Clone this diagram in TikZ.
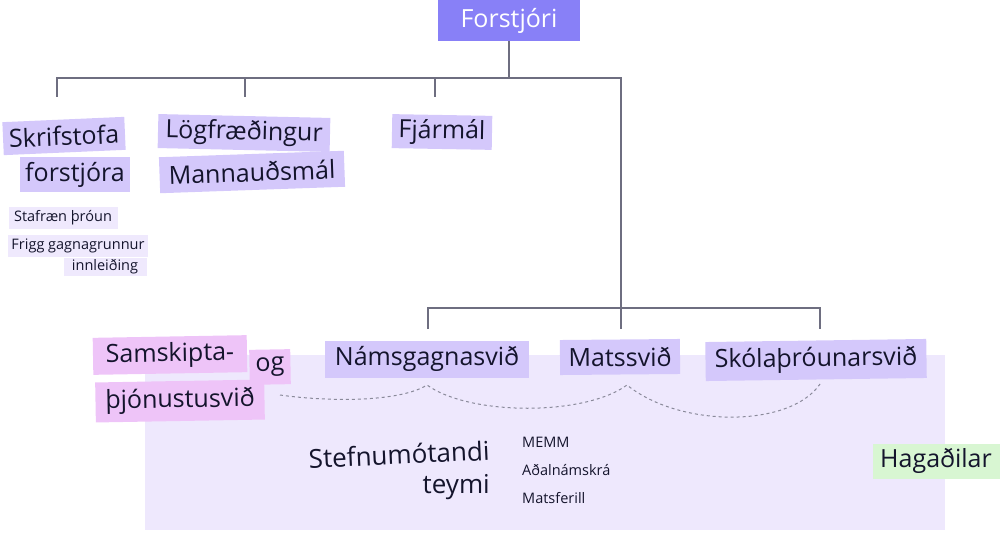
\documentclass[tikz,border=0pt]{standalone}
\usepackage{fontspec}
\setmainfont{Open Sans}
\definecolor{forst}{HTML}{8880F7}
\definecolor{lav}{HTML}{D4C8FB}
\definecolor{lavlight}{HTML}{EFE9FD}
\definecolor{pinkbox}{HTML}{EEC4F8}
\definecolor{bgpanel}{HTML}{EEE8FD}
\definecolor{greenbox}{HTML}{D8F6D2}
\definecolor{ink}{HTML}{14142C}
\definecolor{linec}{HTML}{6E6E80}
\definecolor{dashc}{HTML}{8A8A9A}
\tikzset{
  big/.style={font=\fontsize{25}{29}\selectfont, text=ink, inner sep=0pt, anchor=center},
  lbl/.style={big, fill=lav},
  pinklbl/.style={big, fill=pinkbox},
  smalllbl/.style={font=\fontsize{14.5}{17}\selectfont, text=ink, fill=lavlight, inner sep=0pt},
  smalltxt/.style={font=\fontsize{14.5}{17}\selectfont, text=ink, inner sep=0pt, anchor=west},
  orgline/.style={draw=linec, line width=1.3pt},
  dashline/.style={draw=dashc, line width=1pt, dash pattern=on 3pt off 3pt}
}
\begin{document}
\begin{tikzpicture}[x=1pt,y=-1pt]
\useasboundingbox (0,0) rectangle (1000,537);
% background panel
\fill[bgpanel] (145,355) rectangle (945,530);

% top node
\node[fill=forst, text=white, font=\fontsize{25}{28}\selectfont, minimum width=142pt, minimum height=41pt, inner sep=0pt] (F) at (509,20.5) {Forstjóri};

% connector coordinates
\coordinate (barmid) at (509,78);
\coordinate (barL) at (57,78);
\coordinate (barR) at (621,78);
\coordinate (t1) at (57,97);
\coordinate (t2) at (245,97);
\coordinate (t3) at (435,97);
\coordinate (t2top) at (245,78);
\coordinate (t3top) at (435,78);
\coordinate (low) at (621,308);
\coordinate (lowL) at (428,308);
\coordinate (lowR) at (820,308);
\coordinate (u1) at (428,329);
\coordinate (u2) at (621,329);
\coordinate (u3) at (820,329);

\draw[orgline] (F.south) -- (barmid);
\draw[orgline] (t1) -- (barL) -- (barR) -- (low) -- (u2);
\draw[orgline] (t2top) -- (t2);
\draw[orgline] (t3top) -- (t3);
\draw[orgline] (u1) -- (lowL) -- (lowR) -- (u3);

% level 2 boxes
\node[lbl, minimum width=122pt, minimum height=33pt, rotate=2.5] (skr) at (64,136) {Skrifstofa};
\node[lbl, minimum width=110pt, minimum height=35pt] (forst2) at (75,175) {forstjóra};
\node[lbl, minimum width=172pt, minimum height=34pt, rotate=-1.3] (log) at (244,133) {Lögfræðingur};
\node[lbl, minimum width=185pt, minimum height=36pt, rotate=2] (mann) at (252,172) {Mannauðsmál};
\node[lbl, minimum width=100pt, minimum height=34pt, rotate=-1] (fja) at (442,132) {Fjármál};

% small labels
\node[smalllbl, minimum width=109pt, minimum height=22pt] (staf) at (63,218) {Stafræn þróun};
\node[smalllbl, minimum width=140pt, minimum height=22pt] (frigg) at (78,246) {Frigg gagnagrunnur};
\node[smalllbl, minimum width=83pt, minimum height=18pt] (inn) at (105,267) {innleiðing};

% lower boxes
\node[pinklbl, minimum width=154pt, minimum height=37pt, rotate=1] (sam) at (170,355) {Samskipta-};
\node[pinklbl, minimum width=41pt, minimum height=35pt, rotate=1] (og) at (270,367) {og};
\node[pinklbl, minimum width=169pt, minimum height=40pt, rotate=1] (thj) at (180,401) {þjónustusvið};
\node[lbl, minimum width=204pt, minimum height=37pt] (nams) at (427,359) {Námsgagnasvið};
\node[lbl, minimum width=120pt, minimum height=35pt, rotate=0.5] (mats) at (620,357) {Matssvið};
\node[lbl, minimum width=221pt, minimum height=39pt, rotate=0.8] (skol) at (816,360) {Skólaþróunarsvið};
\node[big, fill=greenbox, minimum width=127pt, minimum height=35pt] (haga) at (936,461) {Hagaðilar};

% text in panel
\node[big, anchor=base east, rotate=2.6, font=\fontsize{26}{30}\selectfont] (stef) at (490,460) {Stefnumótandi};
\node[big, anchor=base east, font=\fontsize{26}{30}\selectfont] (teymi) at (490,493) {teymi};
\node[smalltxt] (memm) at (522,442) {MEMM};
\node[smalltxt] (adal) at (522,470) {Aðalnámskrá};
\node[smalltxt] (matsf) at (522,498) {Matsferill};

% dashed scallops
\coordinate (d0) at (280,395);
\coordinate (d1) at (427,385);
\coordinate (d2) at (627,385);
\coordinate (d3) at (820,384);
\draw[dashline] (d0) .. controls (330,402) and (400,402) .. (d1)
  .. controls (470,416) and (585,416) .. (d2)
  .. controls (680,428) and (790,428) .. (d3);
\end{tikzpicture}
\end{document}
